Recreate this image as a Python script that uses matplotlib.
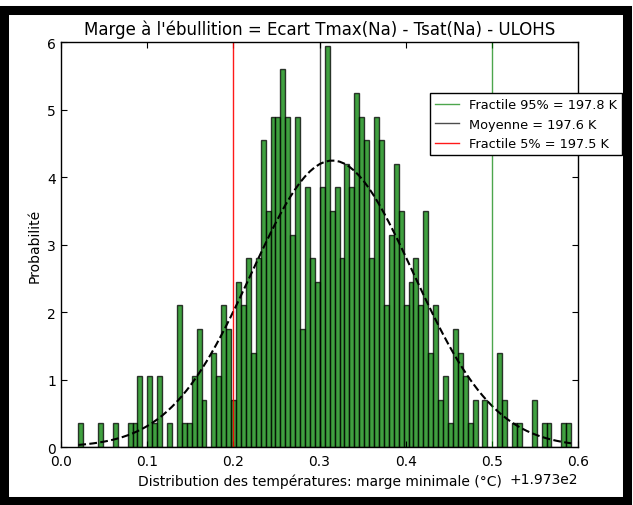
import numpy as np
import matplotlib
matplotlib.use('Agg')
import matplotlib.pyplot as plt
from matplotlib.patches import Rectangle

# histogram of the minimum margin (500 samples, 100 bins)
x_offset = 197.3
bin_start = 197.3201
bin_width = 0.00572
counts = [1, 0, 0, 0, 1, 0, 0, 1, 0, 0,
          1, 1, 3, 0, 3, 1, 3, 0, 1, 0,
          6, 1, 1, 3, 5, 2, 0, 4, 3, 6,
          5, 2, 7, 6, 8, 4, 8, 13, 10, 14,
          14, 16, 14, 9, 14, 5, 11, 8, 7, 11,
          17, 10, 11, 8, 12, 11, 15, 14, 13, 8,
          14, 13, 6, 9, 12, 10, 6, 7, 8, 6,
          10, 4, 6, 2, 3, 1, 5, 4, 3, 1,
          2, 0, 2, 0, 0, 4, 2, 0, 1, 1,
          0, 0, 2, 0, 1, 1, 0, 0, 1, 1]

# fitted normal law
mu = 197.615
sigma = 0.094

# vertical markers
fractile95 = 197.8
moyenne = 197.6
fractile5 = 197.5

counts = np.array(counts, dtype=float)
edges = bin_start + bin_width * np.arange(len(counts) + 1)
centers = 0.5 * (edges[:-1] + edges[1:])

fig = plt.figure(figsize=(6.33, 5.06), dpi=100)
ax = fig.add_axes([0.0964, 0.1146, 0.8167, 0.8004])

n, bins, patches = ax.hist(centers, bins=edges, weights=counts, density=True,
                           facecolor='green', edgecolor='black', alpha=0.75, linewidth=1)

y = 1.0 / (sigma * np.sqrt(2 * np.pi)) * np.exp(-0.5 * ((bins - mu) / sigma) ** 2)
ax.plot(bins, y, 'k--', linewidth=1.5)

ax.axvline(fractile95, color='g', linewidth=1, alpha=0.7,
           label='Fractile 95%% = %.1f K' % fractile95)
ax.axvline(moyenne, color='k', linewidth=1, alpha=0.7,
           label='Moyenne = %.1f K' % moyenne)
ax.axvline(fractile5, color='r', linewidth=1, alpha=0.9,
           label='Fractile 5%% = %.1f K' % fractile5)

ax.set_xlim(197.3, 197.9)
ax.set_ylim(0, 6)
ax.ticklabel_format(axis='x', useOffset=x_offset)
ax.tick_params(direction='in', top=True, right=True, length=4, labelsize=10)
ax.tick_params(axis='x', pad=5)
for s in ax.spines.values():
    s.set_linewidth(1)

ax.set_title("Marge à l'ébullition = Ecart Tmax(Na) - Tsat(Na) - ULOHS", fontsize=12)
ax.set_xlabel('Distribution des températures: marge minimale (°C)', fontsize=10)
ax.set_ylabel('Probabilité', fontsize=10)
ax.xaxis.get_offset_text().set_fontsize(10)

leg = ax.legend(loc='upper left', bbox_to_anchor=(0.714, 0.874), fontsize=9.3,
                fancybox=False, framealpha=1, edgecolor='black', handlelength=1.8,
                borderaxespad=0)
leg.get_frame().set_linewidth(1)

fig.patches.append(Rectangle((0.0071, 0.0079), 0.9842, 0.9701, transform=fig.transFigure,
                             fill=False, edgecolor='black', linewidth=6.5))

fig.savefig('out.png', dpi=100)
